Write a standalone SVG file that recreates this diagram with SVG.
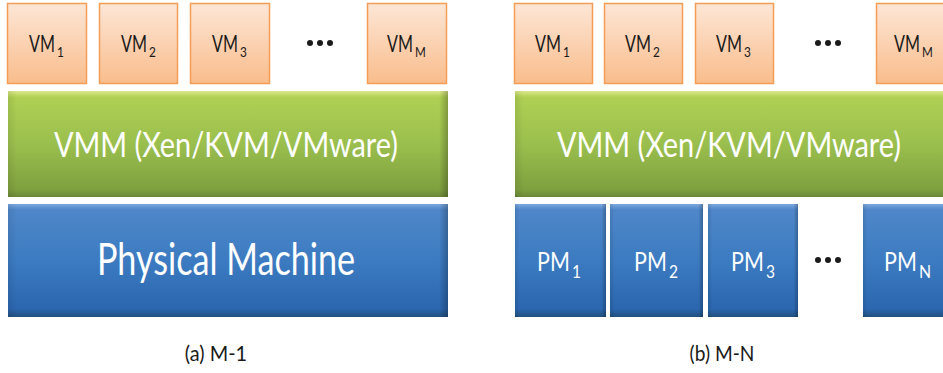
<svg xmlns="http://www.w3.org/2000/svg" width="943" height="373" viewBox="0 0 943 373">
<defs>
<linearGradient id="gVM" x1="0" y1="0" x2="0" y2="1">
<stop offset="0" stop-color="#FDE6D6"/>
<stop offset="1" stop-color="#F9BD8C"/>
</linearGradient>
<linearGradient id="gGreen" x1="0" y1="0" x2="0" y2="1">
<stop offset="0" stop-color="#DDE88A"/>
<stop offset="0.06" stop-color="#AFD053"/>
<stop offset="0.5" stop-color="#9BBF4E"/>
<stop offset="0.93" stop-color="#7FA03F"/>
<stop offset="1" stop-color="#6A8836"/>
</linearGradient>
<linearGradient id="gBlue" x1="0" y1="0" x2="0" y2="1">
<stop offset="0" stop-color="#7DA8DE"/>
<stop offset="0.05" stop-color="#4F87C9"/>
<stop offset="0.5" stop-color="#3C7BC1"/>
<stop offset="0.93" stop-color="#2B66AE"/>
<stop offset="1" stop-color="#22507F"/>
</linearGradient>
<linearGradient id="gEdge" x1="0" y1="0" x2="1" y2="0">
<stop offset="0" stop-color="#000" stop-opacity="0.08"/>
<stop offset="0.02" stop-color="#000" stop-opacity="0"/>
<stop offset="0.98" stop-color="#000" stop-opacity="0"/>
<stop offset="1" stop-color="#000" stop-opacity="0.25"/>
</linearGradient>
<linearGradient id="gEdgeS" x1="0" y1="0" x2="1" y2="0">
<stop offset="0" stop-color="#000" stop-opacity="0.1"/>
<stop offset="0.05" stop-color="#000" stop-opacity="0"/>
<stop offset="0.95" stop-color="#000" stop-opacity="0"/>
<stop offset="1" stop-color="#000" stop-opacity="0.25"/>
</linearGradient>
</defs>
<style>
.vm{fill:url(#gVM);stroke:#F59D56;stroke-width:1.5}
.green{fill:url(#gGreen)}
.blue{fill:url(#gBlue)}
.edge{fill:url(#gEdge)}
.edgeS{fill:url(#gEdgeS)}
text{font-family:Lato,"Liberation Sans",sans-serif}
.vmt{font-size:23px;fill:#1a1a1a}
.vms{font-size:14px;fill:#1a1a1a}
.pmt{font-size:27px;fill:#fff}
.pms{font-size:17px;fill:#fff}
.big{fill:#fff;text-anchor:middle}
.cap{font-size:21px;fill:#1a1a1a;text-anchor:middle}
.dot{fill:#1a1a1a}
</style>

<!-- (a) M-1 -->
<g id="a-vm1"><rect class="vm" x="7.5" y="3.5" width="79" height="80"/><text class="vmt" transform="translate(29,52) scale(0.74,1)" textLength="35" lengthAdjust="spacingAndGlyphs">VM</text><text class="vms" transform="translate(57,57) scale(0.86,1)" textLength="8" lengthAdjust="spacingAndGlyphs">1</text></g>
<g id="a-vm2"><rect class="vm" x="99.5" y="3.5" width="78" height="80"/><text class="vmt" transform="translate(121,52) scale(0.74,1)" textLength="35" lengthAdjust="spacingAndGlyphs">VM</text><text class="vms" transform="translate(149,57) scale(0.86,1)" textLength="8" lengthAdjust="spacingAndGlyphs">2</text></g>
<g id="a-vm3"><rect class="vm" x="190.5" y="3.5" width="79" height="80"/><text class="vmt" transform="translate(212,52) scale(0.74,1)" textLength="35" lengthAdjust="spacingAndGlyphs">VM</text><text class="vms" transform="translate(240,57) scale(0.86,1)" textLength="8" lengthAdjust="spacingAndGlyphs">3</text></g>
<g id="a-dots"><circle class="dot" cx="310" cy="43" r="3"/><circle class="dot" cx="320" cy="43" r="3"/><circle class="dot" cx="330" cy="43" r="3"/></g>
<g id="a-vmM"><rect class="vm" x="367.5" y="3.5" width="79" height="80"/><text class="vmt" transform="translate(387,52) scale(0.74,1)" textLength="35" lengthAdjust="spacingAndGlyphs">VM</text><text class="vms" transform="translate(415,57) scale(0.9,1)" textLength="12" lengthAdjust="spacingAndGlyphs">M</text></g>
<g id="a-vmm"><rect class="green" x="8" y="91" width="440" height="106"/><rect class="edge" x="8" y="91" width="440" height="106"/><text class="big" transform="translate(226,157) scale(0.86,1)" font-size="34" textLength="400" lengthAdjust="spacingAndGlyphs">VMM (Xen/KVM/VMware)</text></g>
<g id="a-pm"><rect class="blue" x="8" y="204" width="440" height="113"/><rect class="edge" x="8" y="204" width="440" height="113"/><text class="big" transform="translate(226,275) scale(0.78,1)" font-size="44" textLength="331" lengthAdjust="spacingAndGlyphs">Physical Machine</text></g>
<text id="cap-a" class="cap" transform="translate(216,361) scale(0.93,1)" textLength="67" lengthAdjust="spacingAndGlyphs">(a) M-1</text>

<!-- (b) M-N -->
<g id="b-vm1"><rect class="vm" x="514.5" y="3.5" width="78" height="80"/><text class="vmt" transform="translate(535,52) scale(0.74,1)" textLength="35" lengthAdjust="spacingAndGlyphs">VM</text><text class="vms" transform="translate(563,57) scale(0.86,1)" textLength="8" lengthAdjust="spacingAndGlyphs">1</text></g>
<g id="b-vm2"><rect class="vm" x="604.5" y="3.5" width="78" height="80"/><text class="vmt" transform="translate(625,52) scale(0.74,1)" textLength="35" lengthAdjust="spacingAndGlyphs">VM</text><text class="vms" transform="translate(653,57) scale(0.86,1)" textLength="8" lengthAdjust="spacingAndGlyphs">2</text></g>
<g id="b-vm3"><rect class="vm" x="695.5" y="3.5" width="78" height="80"/><text class="vmt" transform="translate(716,52) scale(0.74,1)" textLength="35" lengthAdjust="spacingAndGlyphs">VM</text><text class="vms" transform="translate(744,57) scale(0.86,1)" textLength="8" lengthAdjust="spacingAndGlyphs">3</text></g>
<g id="b-dots"><circle class="dot" cx="818" cy="43" r="3"/><circle class="dot" cx="828" cy="43" r="3"/><circle class="dot" cx="838" cy="43" r="3"/></g>
<g id="b-vmM"><rect class="vm" x="876.5" y="3.5" width="72" height="80"/><text class="vmt" transform="translate(894,52) scale(0.74,1)" textLength="35" lengthAdjust="spacingAndGlyphs">VM</text><text class="vms" transform="translate(922,57) scale(0.9,1)" textLength="12" lengthAdjust="spacingAndGlyphs">M</text></g>
<g id="b-vmm"><rect class="green" x="515" y="91" width="428" height="106"/><rect class="edge" x="515" y="91" width="440" height="106"/><text class="big" transform="translate(729,157) scale(0.86,1)" font-size="34" textLength="400" lengthAdjust="spacingAndGlyphs">VMM (Xen/KVM/VMware)</text></g>
<g id="b-pm1"><rect class="blue" x="515" y="204" width="91" height="113"/><rect class="edgeS" x="515" y="204" width="91" height="113"/><text class="pmt" transform="translate(537,271) scale(0.82,1)" textLength="40" lengthAdjust="spacingAndGlyphs">PM</text><text class="pms" transform="translate(572,278) scale(0.9,1)" textLength="10" lengthAdjust="spacingAndGlyphs">1</text></g>
<g id="b-pm2"><rect class="blue" x="610" y="204" width="93" height="113"/><rect class="edgeS" x="610" y="204" width="93" height="113"/><text class="pmt" transform="translate(634,271) scale(0.82,1)" textLength="40" lengthAdjust="spacingAndGlyphs">PM</text><text class="pms" transform="translate(669,278) scale(0.9,1)" textLength="10" lengthAdjust="spacingAndGlyphs">2</text></g>
<g id="b-pm3"><rect class="blue" x="708" y="204" width="90" height="113"/><rect class="edgeS" x="708" y="204" width="90" height="113"/><text class="pmt" transform="translate(731,271) scale(0.82,1)" textLength="40" lengthAdjust="spacingAndGlyphs">PM</text><text class="pms" transform="translate(766,278) scale(0.9,1)" textLength="10" lengthAdjust="spacingAndGlyphs">3</text></g>
<g id="b-dots2"><circle class="dot" cx="818" cy="260" r="3"/><circle class="dot" cx="828" cy="260" r="3"/><circle class="dot" cx="838" cy="260" r="3"/></g>
<g id="b-pmN"><rect class="blue" x="863" y="204" width="80" height="113"/><rect class="edgeS" x="863" y="204" width="90" height="113"/><text class="pmt" transform="translate(884,271) scale(0.82,1)" textLength="40" lengthAdjust="spacingAndGlyphs">PM</text><text class="pms" transform="translate(919,278) scale(0.93,1)" textLength="13" lengthAdjust="spacingAndGlyphs">N</text></g>
<text id="cap-b" class="cap" transform="translate(722,361) scale(0.9,1)" textLength="72" lengthAdjust="spacingAndGlyphs">(b) M-N</text>
<g id="connectors"/>
</svg>
